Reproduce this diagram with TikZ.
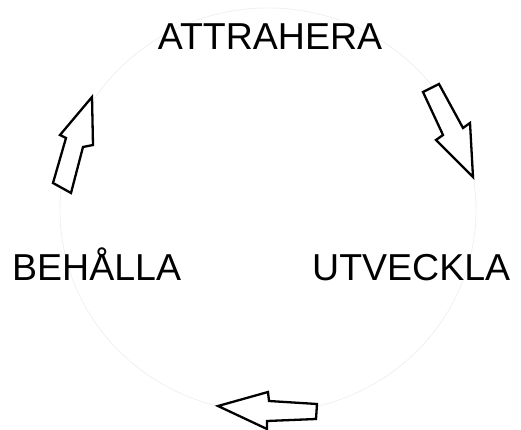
\documentclass[tikz,border=0pt]{standalone}
\usepackage{fontspec}
\setmainfont{Liberation Sans}
\begin{document}
\begin{tikzpicture}[x=1pt,y=-1pt,
  lbl/.style={inner sep=0pt, font=\fontsize{37.5}{40}\selectfont, text=black},
  blockarrow/.style={draw=black, fill=white, line width=2.3pt, line join=miter}]
\useasboundingbox (0,0) rectangle (521,430);
\draw[draw=black!6, line width=0.8pt] (268,210) ellipse [x radius=208, y radius=202];
\node[lbl, anchor=base] (attr) at (270,50) {ATTRAHERA};
\node[lbl, anchor=base west] (beh) at (12,280) {BEHÅLLA};
\node[lbl, anchor=base west] (utv) at (312,280) {UTVECKLA};
% top-right arrow
\draw[blockarrow] (423,92) -- (439,84) -- (463,128) -- (470,123) -- (473,177) -- (436,140) -- (443,135) -- cycle;
% bottom arrow
\draw[blockarrow] (218,406) -- (268,392) -- (269,401) -- (317,404) -- (316,419) -- (267,421) -- (267,429) -- cycle;
% top-left arrow
\draw[blockarrow] (53,183) -- (71,193) -- (83,147) -- (93,145) -- (92,97) -- (60,135) -- (66,138) -- cycle;
\end{tikzpicture}
\end{document}
